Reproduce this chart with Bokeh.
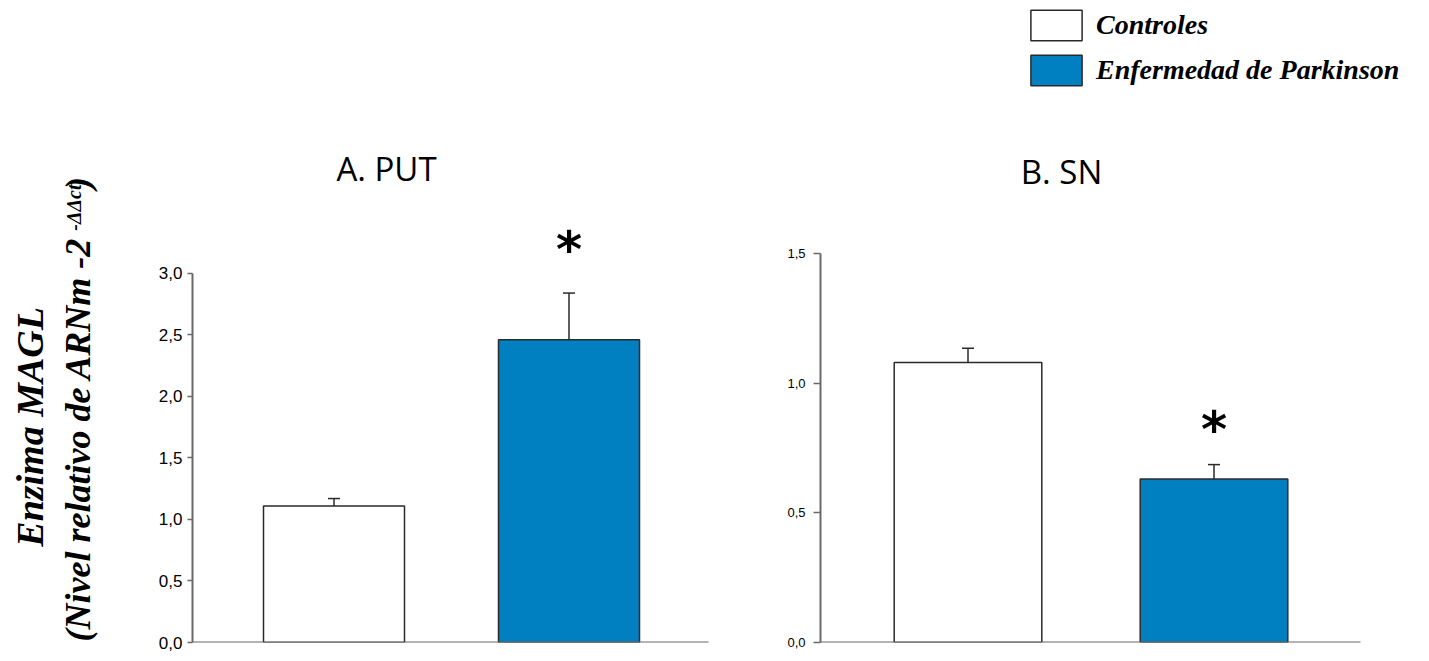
import numpy as np
from bokeh.plotting import figure
from bokeh.layouts import row
from bokeh.models import (Range1d, FixedTicker, CustomJSTickFormatter, Whisker, TeeHead,
                          ColumnDataSource, Legend, LegendItem, Arrow)
from bokeh.core.properties import value
from bokeh.embed import file_html
from bokeh.resources import INLINE

# ---------------- data ----------------
groups = ["Controles", "Enfermedad de Parkinson"]
colors = ["#ffffff", "#0080c0"]
put_mean = [1.11, 2.46]
put_sem = [0.06, 0.38]
sn_mean = [1.08, 0.63]
sn_sem = [0.055, 0.056]
put_ticks = [0.0, 0.5, 1.0, 1.5, 2.0, 2.5, 3.0]
sn_ticks = [0.0, 0.5, 1.0, 1.5]
titles = ["A. PUT", "B. SN"]
significant = ["", "*"]
ylabel1 = "Enzima MAGL"
ylabel2 = "(Nivel relativo de ARNm -2"
ylabel_sup = "-ΔΔct"
ylabel_end = ")"

H = 661
AXIS_COLOR = "#6a6a6a"
BAR_LINE = "#2a2a2a"
fmt = CustomJSTickFormatter(code="return tick.toFixed(1).replace('.', ',');")


def make_panel(mean, sem, ticks, width, mb_left, mb_right, mb_bottom, px_y, px_x, x0,
               tick_font, tick_out, standoff, axis_end, title, title_px, star_off):
    frame_h = H - mb_bottom
    frame_w = width - mb_left - mb_right
    p = figure(width=width, height=H, output_backend="svg", toolbar_location=None,
               x_range=Range1d(x0, x0 + frame_w / px_x), y_range=Range1d(0, frame_h / px_y),
               min_border_left=mb_left, min_border_right=mb_right,
               min_border_top=0, min_border_bottom=mb_bottom,
               x_axis_location=None,
               outline_line_color=None, background_fill_color="white",
               border_fill_color="white")
    p.grid.visible = False
    xs = [1, 2]
    src = ColumnDataSource(dict(x=xs, top=mean, upper=[m + s for m, s in zip(mean, sem)],
                                color=colors, label=groups))
    # baseline (x axis line)
    p.add_layout(Arrow(x_start=x0, y_start=0, x_end=x0 + axis_end / px_x, y_end=0,
                       start=None, end=None, line_width=2, line_color=AXIS_COLOR))
    bars = p.vbar(x="x", top="top", bottom=0, width=0.6, source=src, fill_color="color",
                  line_color=BAR_LINE, line_width=1.5)
    wh = Whisker(base="x", lower="top", upper="upper", source=src, lower_head=None,
                 upper_head=TeeHead(size=12, line_width=1.5, line_color=BAR_LINE),
                 line_width=1.5, line_color=BAR_LINE)
    p.add_layout(wh)
    # y axis
    ya = p.yaxis[0]
    ya.ticker = FixedTicker(ticks=ticks)
    ya.formatter = fmt
    ya.bounds = (ticks[0], ticks[-1])
    ya.axis_line_width = 2
    ya.axis_line_color = AXIS_COLOR
    ya.major_tick_line_color = AXIS_COLOR
    ya.major_tick_line_width = 1.5
    ya.major_tick_in = 0
    ya.major_tick_out = tick_out
    ya.minor_tick_in = 0
    ya.minor_tick_out = 0
    ya.major_label_text_font = "Liberation Sans"
    ya.major_label_text_font_size = tick_font
    ya.major_label_text_color = "black"
    ya.major_label_standoff = standoff
    # title (positioned in pixels relative to frame)
    tx = x0 + title_px[0] / px_x
    ty = (frame_h - title_px[1]) / px_y
    p.text(x=[tx], y=[ty], text=[title], text_font=value("Open Sans"),
           text_font_size="33px", text_align="center", text_baseline="alphabetic",
           text_color="black")
    # significance star
    star_x = [x for x, s in zip(xs, significant) if s]
    star_y = [m + e + star_off / px_y for m, e, s in zip(mean, sem, significant) if s]
    p.text(x=star_x, y=star_y, text=[s for s in significant if s],
           text_font=value("DejaVu Sans"), text_font_style="bold",
           text_font_size="50px", text_align="center", text_baseline="middle",
           text_color="black")
    return p, bars


# Panel A: page x 150..720, frame 192..720
pA, _ = make_panel(put_mean, put_sem, put_ticks, width=570, mb_left=42, mb_right=0,
                   mb_bottom=14, px_y=124.0, px_x=235.0, x0=1 - 141.5 / 235.0,
                   tick_font="17px", tick_out=5, standoff=5, axis_end=516,
                   title=titles[0], title_px=(386 - 192, 169), star_off=43.5)

# Panel B: page x 720..1429, frame 820..1429
pB, barsB = make_panel(sn_mean, sn_sem, sn_ticks, width=709, mb_left=100, mb_right=0,
                       mb_bottom=19, px_y=259.33, px_x=246.0, x0=1 - 147.5 / 246.0,
                       tick_font="13px", tick_out=7, standoff=8, axis_end=540,
                       title=titles[1], title_px=(1061 - 820, 171), star_off=34.5)

legend = Legend(items=[LegendItem(label=value(groups[0]), renderers=[barsB], index=0),
                       LegendItem(label=value(groups[1]), renderers=[barsB], index=1)],
                location=(204, (H - 19) - 89), orientation="vertical",
                padding=0, margin=0, spacing=7, glyph_width=64, glyph_height=38,
                label_height=38, label_standoff=8,
                label_text_font="Liberation Serif", label_text_font_style="bold italic",
                label_text_font_size="28px", label_text_color="black",
                label_text_baseline="middle",
                border_line_alpha=0, background_fill_alpha=0)
pB.add_layout(legend)

# Y label figure: page x 0..150
pL = figure(width=150, height=H, output_backend="svg", toolbar_location=None,
            x_range=Range1d(0, 150), y_range=Range1d(0, H), min_border=0,
            x_axis_location=None, y_axis_location=None, outline_line_color=None)
pL.grid.visible = False
lab_font = dict(text_font=value("Liberation Serif"), text_font_style="bold italic",
                text_baseline="alphabetic", text_color="black", angle=np.pi / 2)
pL.text(x=[29], y=[H - 439], text=[ylabel1], text_font_size="38px",
        text_align="center", **lab_font)
pL.text(x=[77], y=[H - 244], text=[ylabel2], text_font_size="36px",
        text_align="right", **lab_font)
pL.text(x=[73], y=[H - 237], text=[ylabel_sup], text_font_size="20px",
        text_align="left", **lab_font)
pL.text(x=[77], y=[H - 194], text=[ylabel_end], text_font_size="36px",
        text_align="left", **lab_font)

layout = row(pL, pA, pB)
open("out.html", "w").write(file_html(layout, INLINE))
